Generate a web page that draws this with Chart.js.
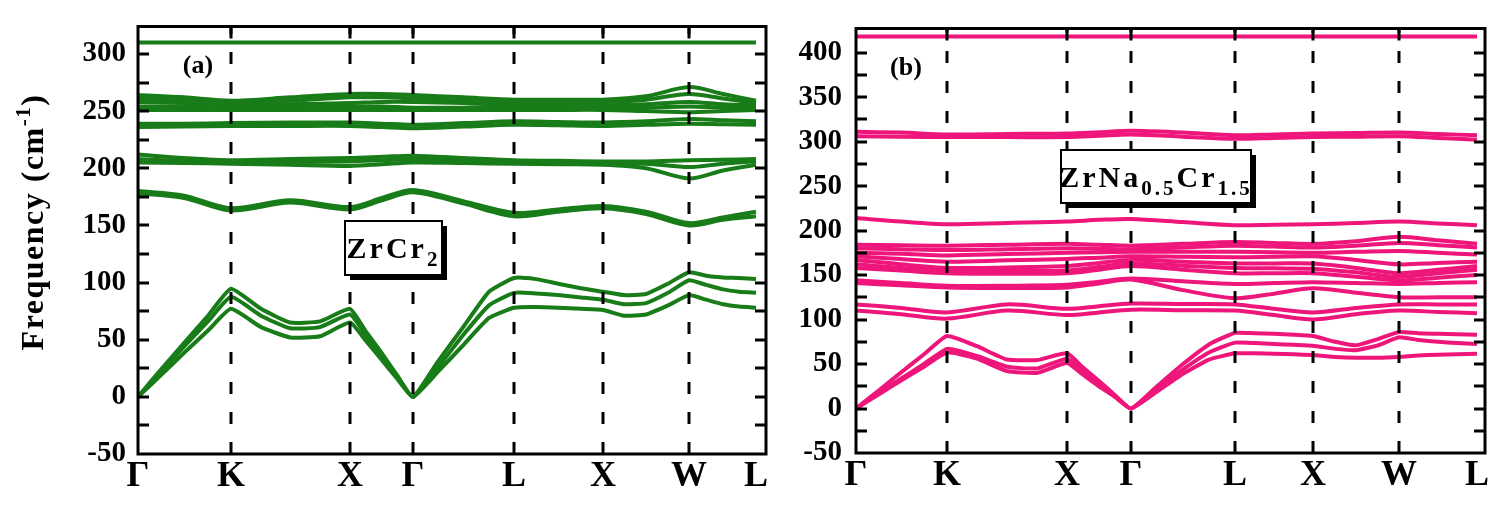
<!DOCTYPE html>
<html>
<head>
<meta charset="utf-8">
<script src="https://cdn.jsdelivr.net/npm/chart.js@4.4.1/dist/chart.umd.min.js"></script>
<style>
  body { margin: 0; background: #fff; width: 1496px; height: 510px; overflow: hidden; }
  .panel { position: absolute; top: 0; height: 510px; }
</style>
</head>
<body>
<div class="panel" style="left:0;width:790px"><canvas id="chartA"></canvas></div>
<div class="panel" style="left:790px;width:706px"><canvas id="chartB"></canvas></div>
<script>
const kLabels = ['Γ', 'K', 'X', 'Γ', 'L', 'X', 'W', 'L'];

// ---- panel (a): ZrCr2 ----
const kSymA = [0, 93, 212, 275, 376, 465, 551, 618];
const kMidA = [0, 46, 93, 152, 212, 244, 275, 326, 376, 420, 465, 508, 551, 585, 618];
const kFineA = [0, 23, 46, 70, 93, 123, 152, 182, 212, 228, 244, 259, 275, 300, 326, 351, 376,
                398, 420, 443, 465, 486, 508, 530, 551, 568, 585, 601, 618];
const yTicksA = [-50, 0, 50, 100, 150, 200, 250, 300];
const yMarksA = [-25, 0, 25, 50, 75, 100, 125, 150, 175, 200, 225, 250, 275, 300];

const zrTop = [310, 310, 310, 310, 310, 310, 310, 310, 310, 310, 310, 310, 310, 310, 310];
const zrB1 = [264, 262, 259, 262, 265, 265, 264, 262, 260, 260, 260, 263, 271, 265, 259];
const zrB2 = [261, 259, 257, 259, 262, 262, 261, 259, 258, 258, 258, 260, 265, 261, 257];
const zrB3 = [258, 257, 256, 256, 257, 258, 258, 257, 256, 255, 255, 256, 258, 256, 255];
const zrB4 = [254, 254, 253, 253, 254, 254, 253, 253, 254, 253, 253, 253, 254, 253, 253];
const zrB5 = [251, 251, 251, 251, 251, 251, 251, 251, 251, 251, 251, 250, 249, 250, 251];
const zrA1 = [239, 239, 239.5, 240, 240, 239, 238, 239.5, 241, 240.5, 240, 241, 243, 242, 241];
const zrA2 = [236, 236.5, 237, 237, 237, 236, 235, 236.5, 238, 237.5, 237, 238, 239, 238.5, 238];
const zrC1 = [212, 209, 207, 208, 209, 210, 211, 209, 207, 206.5, 206, 206, 207, 207.5, 208];
const zrC2 = [208, 206, 205, 205.5, 206, 207, 208, 206.5, 205, 204.5, 204, 204, 201, 204, 206];
const zrC3 = [205, 204.5, 204, 203, 202, 203.5, 205, 204.5, 204, 203.5, 203, 200, 191, 198, 203];
const zrD1 = [180, 176, 165, 172, 166, 174, 181, 171, 161, 164, 167, 162, 152, 157, 162];
const zrD2 = [178, 174, 163, 170, 164, 172, 179, 169, 158, 162, 165, 160, 150, 155, 158];

const zrAc1 = [0, 24, 47, 71, 94.6, 77, 65, 66, 77, 57, 38, 19, 0, 31, 62, 92, 104,
               103, 99, 95, 92, 89, 90, 99, 109, 106, 104.5, 104, 103];
const zrAc2 = [0, 22, 44, 66, 87.5, 71, 60, 61, 72, 54, 36, 18, 0, 26, 55, 80, 91,
               90.5, 89, 87, 85, 81, 82, 91, 102, 98, 94, 92, 91];
const zrAc3 = [0, 19, 38.5, 58, 77, 61, 52, 53, 65, 49, 32, 16, 0, 22, 46, 69, 78,
               78.5, 78, 77, 76, 71, 72, 80, 89, 85, 81, 79, 78];

// ---- panel (b): ZrNa0.5Cr1.5 ----
const kSymB = [0, 91, 211, 275, 379, 457, 543, 621];
const kMidB = [0, 45, 91, 151, 211, 243, 275, 327, 379, 418, 457, 500, 543, 582, 621];
const kFineB = [0, 23, 45, 68, 91, 121, 151, 181, 211, 227, 243, 259, 275, 301, 327, 353, 379,
                399, 418, 438, 457, 479, 500, 522, 543, 562, 582, 601, 621];
const yTicksB = [-50, 0, 50, 100, 150, 200, 250, 300, 350, 400];
const yMarksB = [-25, 0, 25, 50, 75, 100, 125, 150, 175, 200, 225, 250, 275, 300, 325, 350, 375, 400];

const znTop = [418, 418, 418, 418, 418, 418, 418, 418, 418, 418, 418, 418, 418, 418, 418];
const znE1 = [311, 310, 308, 308.5, 309, 310.5, 312, 310, 307, 308, 309, 309.5, 310, 308.5, 307];
const znE2 = [306, 305.5, 305, 305, 305, 306.5, 308, 305.5, 303, 304, 305, 305.5, 306, 304, 302];
const znF = [214, 210, 207, 208.5, 210, 212, 213, 209.5, 206, 206.5, 207, 208.5, 210, 208, 206];
const znH1 = [184, 183.5, 183, 184, 185, 184, 183, 185, 187, 186, 185, 188, 193, 189, 185];
const znH2 = [180, 179, 178, 179, 180, 179.5, 179, 181, 183, 182, 181, 183, 186, 183.5, 181];
const znH3 = [175, 174, 172, 173.5, 175, 175.5, 176, 176, 176, 175.5, 175, 176, 177, 175, 173];
const znH4 = [171, 168, 165, 166.5, 168, 169.5, 171, 170.5, 170, 170.5, 171, 167, 162, 163.5, 165];
const znH5 = [167, 162, 158, 158.5, 160, 163.5, 167, 165, 163, 163, 163, 158, 152, 156, 160];
const znH6 = [162, 158, 155, 154.5, 155, 159, 163, 160.5, 158, 157.5, 157, 153, 148, 152, 156];
const znH7 = [158, 155, 152, 151.5, 152, 156, 160, 156, 152, 152, 152, 148, 144, 147, 150];
const znI1 = [144, 141, 138, 138, 139, 142.5, 146, 143, 140, 141, 142, 141, 140, 141, 142];
const znI2 = [141, 138.5, 136, 135.5, 136, 140.5, 145, 133, 124, 129, 135, 130, 125, 125, 125];
const znG1 = [117, 113, 108, 117, 112, 115, 118, 117.5, 117, 112, 108, 113, 117, 117, 117];
const znG2 = [110, 106, 101, 110, 105, 108, 111, 110.5, 110, 105, 100, 106, 110, 108.5, 107];

const znAc1 = [0, 20.5, 40.5, 61, 81.5, 70, 55, 54.5, 62, 46, 31, 15, 0, 25, 50, 72, 85,
               84.5, 84, 83, 81.5, 75, 71, 78, 86, 84.5, 84, 83.5, 83];
const znAc2 = [0, 17, 33.5, 50, 67, 59, 47, 45, 56, 42, 28, 14, 0, 22, 44, 63, 74,
               73.5, 72.5, 71.5, 70.5, 67, 65.5, 71, 80, 77, 75, 73.5, 72.5];
const znAc3 = [0, 16, 31.5, 47, 63, 56, 42, 40, 51, 38, 25, 13, 0, 19, 39, 55, 62,
               62, 61.5, 61, 60, 58, 57, 57, 58, 59.5, 60.5, 61, 61.5];

const GREEN = 'rgb(24, 124, 24)';
const PINK = 'rgb(238, 22, 122)';
const SERIF = '"Liberation Serif", "Times New Roman", serif';

function bandSets(grid, bands, color, tension) {
  return bands.map(b => ({
    data: grid.map((k, i) => ({ x: k, y: b[i] })),
    borderColor: color,
    borderWidth: 4,
    pointRadius: 0,
    fill: false,
    tension: tension
  }));
}

// text with sub/superscripts, centred on cx, baseline at by
function drawRich(ctx, parts, cx, by, spacing) {
  ctx.letterSpacing = spacing + 'px';
  let total = 0;
  parts.forEach(p => { ctx.font = 'bold ' + p.size + 'px ' + SERIF; total += ctx.measureText(p.t).width; });
  let x = cx - total / 2;
  ctx.textAlign = 'left';
  ctx.textBaseline = 'alphabetic';
  parts.forEach(p => {
    ctx.font = 'bold ' + p.size + 'px ' + SERIF;
    ctx.fillText(p.t, x, by + (p.dy || 0));
    x += ctx.measureText(p.t).width;
  });
  ctx.letterSpacing = '0px';
}

function framePlugin(cfg) {
  return {
    id: 'bandFrame',
    afterDatasetsDraw(chart) {
      const { ctx, chartArea: a, scales: { x, y } } = chart;
      ctx.save();
      ctx.strokeStyle = '#000';
      ctx.fillStyle = '#000';
      ctx.lineWidth = 3;

      // dashed symmetry lines
      cfg.kSym.slice(1, -1).forEach(k => {
        const px = Math.round(x.getPixelForValue(k));
        ctx.setLineDash([12, 18]);
        ctx.beginPath(); ctx.moveTo(px, a.bottom); ctx.lineTo(px, a.top); ctx.stroke();
        ctx.setLineDash([]);
        ctx.beginPath(); ctx.moveTo(px, a.top); ctx.lineTo(px, a.top + 12); ctx.stroke();
      });

      // inward tick marks on both sides
      cfg.yMarks.forEach(v => {
        const py = Math.round(y.getPixelForValue(v));
        ctx.beginPath();
        ctx.moveTo(a.left, py); ctx.lineTo(a.left + 11, py);
        ctx.moveTo(a.right, py); ctx.lineTo(a.right - 11, py);
        ctx.stroke();
      });

      ctx.strokeRect(a.left, a.top, a.right - a.left, a.bottom - a.top);

      // panel tag
      ctx.font = 'bold 26px ' + SERIF;
      ctx.textAlign = 'center';
      ctx.textBaseline = 'middle';
      ctx.fillText(cfg.tag[0], cfg.tag[1], cfg.tag[2]);

      // formula box with shadow
      const b = cfg.box;
      ctx.fillRect(b.x + 5, b.y + 5, b.w, b.h);
      ctx.fillStyle = '#fff';
      ctx.fillRect(b.x, b.y, b.w, b.h);
      ctx.lineWidth = 2;
      ctx.strokeRect(b.x, b.y, b.w, b.h);
      ctx.fillStyle = '#000';
      drawRich(ctx, cfg.formula, b.x + b.w / 2, b.y + b.h / 2 + 10, 3);

      // y axis title
      if (cfg.title) {
        ctx.translate(cfg.title.x, cfg.title.y);
        ctx.rotate(-Math.PI / 2);
        drawRich(ctx, cfg.title.parts, 0, 11, 1.5);
      }
      ctx.restore();
    }
  };
}

function makeChart(id, p) {
  const tickFont = { family: SERIF, size: 29, weight: 'bold', lineHeight: 1 };
  return new Chart(document.getElementById(id), {
    type: 'line',
    data: { datasets: p.datasets },
    options: {
      responsive: true,
      maintainAspectRatio: false,
      animation: false,
      events: [],
      layout: { padding: p.padding, autoPadding: false },
      plugins: { legend: { display: false }, tooltip: { enabled: false } },
      scales: {
        x: {
          type: 'linear', min: 0, max: p.xMax,
          afterBuildTicks: ax => { ax.ticks = p.kSym.map(v => ({ value: v })); },
          afterFit: ax => { ax.height = p.xHeight; },
          grid: { display: false, drawTicks: false },
          border: { display: false },
          ticks: {
            autoSkip: false, maxRotation: 0, minRotation: 0, padding: 5,
            color: '#000',
            font: { family: SERIF, size: 36, weight: 'bold', lineHeight: 1 },
            callback: (v, i) => kLabels[i]
          }
        },
        y: {
          type: 'linear', min: -50, max: p.yMax,
          afterBuildTicks: ax => { ax.ticks = p.yTicks.map(v => ({ value: v })); },
          afterFit: ax => { ax.width = p.yWidth; },
          grid: { display: false, drawTicks: false },
          border: { display: false },
          ticks: { color: '#000', font: tickFont, padding: p.yPad }
        }
      }
    },
    plugins: [framePlugin(p.frame)]
  });
}

makeChart('chartA', {
  datasets: bandSets(kMidA, [zrTop, zrB1, zrB2, zrB3, zrB4, zrB5, zrA1, zrA2, zrC1, zrC2, zrC3, zrD1, zrD2], GREEN, 0.3)
    .concat(bandSets(kFineA, [zrAc1, zrAc2, zrAc3], GREEN, 0.15)),
  kSym: kSymA, xMax: 628, yMax: 324, yTicks: yTicksA,
  padding: { left: 0, top: 15, right: 24, bottom: 0 },
  xHeight: 56, yWidth: 138, yPad: 12,
  frame: {
    kSym: kSymA, yMarks: yMarksA,
    tag: ['(a)', 198, 66],
    box: { x: 345, y: 221, w: 97, h: 54 },
    formula: [{ t: 'ZrCr', size: 30 }, { t: '2', size: 21, dy: 8 }],
    title: {
      x: 32, y: 222,
      parts: [{ t: 'Frequency (cm', size: 32 }, { t: '-1', size: 21, dy: -13 }, { t: ')', size: 32 }]
    }
  }
});

makeChart('chartB', {
  datasets: bandSets(kMidB, [znTop, znE1, znE2, znF, znH1, znH2, znH3, znH4, znH5, znH6, znH7, znI1, znI2, znG1, znG2], PINK, 0.3)
    .concat(bandSets(kFineB, [znAc1, znAc2, znAc3], PINK, 0.15)),
  kSym: kSymB, xMax: 629, yMax: 427, yTicks: yTicksB,
  padding: { left: 0, top: 15, right: 11, bottom: 0 },
  xHeight: 57, yWidth: 66, yPad: 14,
  frame: {
    kSym: kSymB, yMarks: yMarksB,
    tag: ['(b)', 116, 68],
    box: { x: 271, y: 150, w: 190, h: 53 },
    formula: [{ t: 'ZrNa', size: 30 }, { t: '0.5', size: 21, dy: 8 }, { t: 'Cr', size: 30 }, { t: '1.5', size: 21, dy: 8 }]
  }
});
</script>
</body>
</html>
